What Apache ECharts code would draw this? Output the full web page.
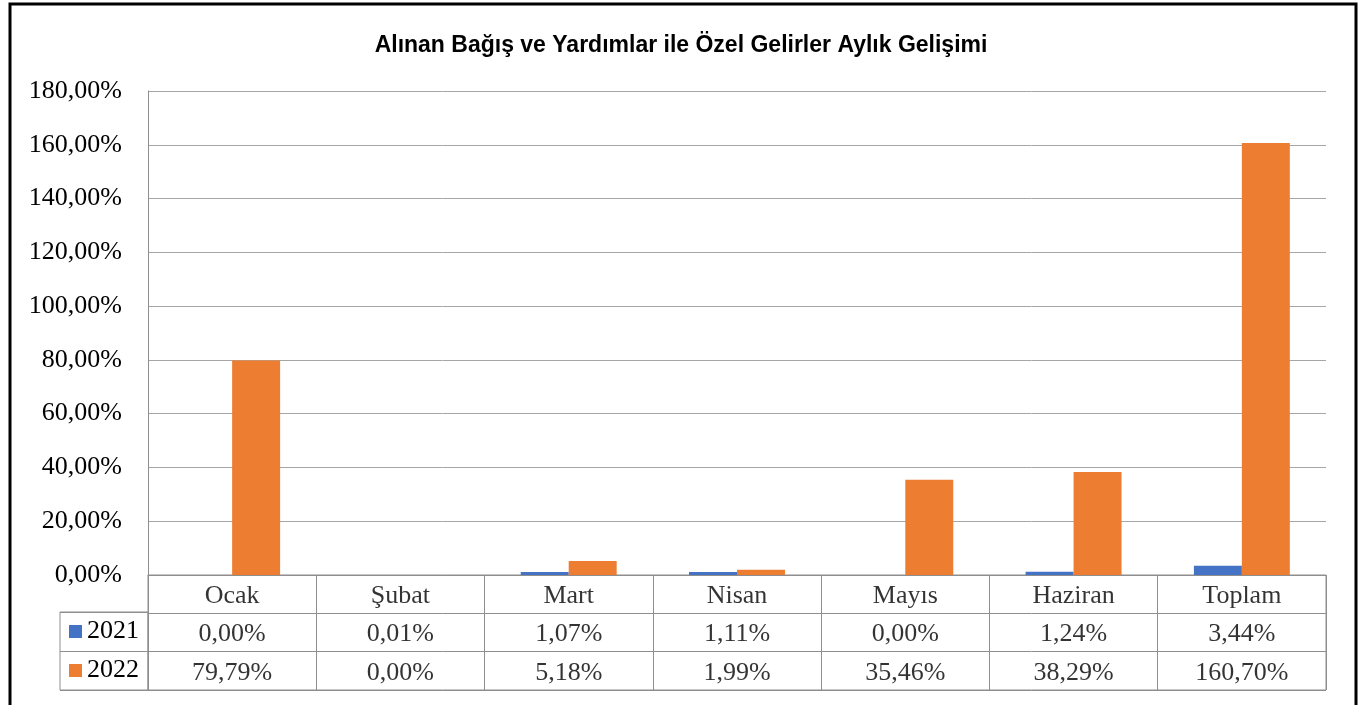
<!DOCTYPE html>
<html>
<head>
<meta charset="utf-8">
<script src="https://cdn.jsdelivr.net/npm/echarts@6/dist/echarts.min.js"></script>
<style>
  html, body { margin: 0; padding: 0; background: #fff; }
  #chart { width: 1362px; height: 705px; }
</style>
</head>
<body>
<div id="chart"></div>
<script>
const months = ['Ocak', 'Şubat', 'Mart', 'Nisan', 'Mayıs', 'Haziran', 'Toplam'];
const years = ['2021', '2022'];
const values2021 = [0.00, 0.01, 1.07, 1.11, 0.00, 1.24, 3.44];
const values2022 = [79.79, 0.00, 5.18, 1.99, 35.46, 38.29, 160.70];
const colors = ['#4472C4', '#ED7D31'];

const serif = 'Liberation Serif, Times New Roman, serif';
const lineGray = '#8e8e8e';
const fmt = v => v.toFixed(2).replace('.', ',') + '%';

// cells of the data table: [column, row, text]
const tableCells = [];
months.forEach((m, i) => {
  tableCells.push([i, 0, m]);
  tableCells.push([i, 1, fmt(values2021[i])]);
  tableCells.push([i, 2, fmt(values2022[i])]);
});

const chart = echarts.init(document.getElementById('chart'));

const option = {
  animation: false,
  title: {
    text: 'Alınan Bağış ve Yardımlar ile Özel Gelirler Aylık Gelişimi',
    left: 'center',
    top: 29,
    textStyle: {
      fontFamily: 'Liberation Sans, Arial, sans-serif',
      fontWeight: 'bold',
      fontSize: 23,
      color: '#000'
    }
  },
  graphic: [
    {
      type: 'rect',
      shape: { x: 10, y: 4, width: 1346, height: 712 },
      style: { fill: 'none', stroke: '#000', lineWidth: 3 },
      silent: true
    }
  ],
  grid: [
    { left: 148, right: 36, top: 91, bottom: 130 },
    { left: 148, right: 36, top: 575, height: 115, show: true, borderColor: lineGray, borderWidth: 1 },
    { left: 60, width: 88, top: 612, height: 78, show: true, borderColor: lineGray, borderWidth: 1 }
  ],
  xAxis: [
    {
      gridIndex: 0,
      type: 'category',
      data: months,
      axisLine: { lineStyle: { color: lineGray } },
      axisTick: { show: false },
      axisLabel: { show: false }
    },
    {
      gridIndex: 1,
      type: 'category',
      data: months,
      axisLine: { show: false },
      axisTick: { show: false },
      axisLabel: { show: false },
      splitLine: { show: true, interval: 0, lineStyle: { color: lineGray } }
    },
    {
      gridIndex: 2,
      type: 'category',
      data: [''],
      show: false
    }
  ],
  yAxis: [
    {
      gridIndex: 0,
      type: 'value',
      min: 0,
      max: 180,
      interval: 20,
      axisLine: { show: true, lineStyle: { color: lineGray } },
      axisTick: { show: false },
      axisLabel: {
        formatter: v => fmt(v),
        fontFamily: serif,
        fontSize: 26,
        color: '#000',
        margin: 26
      },
      splitLine: { lineStyle: { color: '#a6a6a6' } }
    },
    {
      gridIndex: 1,
      type: 'category',
      inverse: true,
      data: ['', years[0], years[1]],
      axisLine: { show: false },
      axisTick: { show: false },
      axisLabel: { show: false },
      splitLine: { show: true, interval: 0, lineStyle: { color: lineGray } }
    },
    {
      gridIndex: 2,
      type: 'category',
      inverse: true,
      data: years,
      axisLine: { show: false },
      axisTick: { show: false },
      splitLine: { show: true, interval: 0, lineStyle: { color: lineGray } },
      axisLabel: {
        inside: true,
        margin: 9,
        formatter: (v, i) => '{s' + i + '|}{t|' + v + '}',
        rich: {
          s0: { width: 13, height: 13, backgroundColor: colors[0] },
          s1: { width: 13, height: 13, backgroundColor: colors[1] },
          t: { fontFamily: serif, fontSize: 26, color: '#000', padding: [0, 0, 0, 5] }
        }
      }
    }
  ],
  series: [
    {
      name: years[0],
      type: 'bar',
      xAxisIndex: 0,
      yAxisIndex: 0,
      data: values2021,
      barGap: '0%',
      barCategoryGap: '43%',
      itemStyle: { color: colors[0] }
    },
    {
      name: years[1],
      type: 'bar',
      xAxisIndex: 0,
      yAxisIndex: 0,
      data: values2022,
      barGap: '0%',
      barCategoryGap: '43%',
      itemStyle: { color: colors[1] }
    },
    {
      type: 'scatter',
      xAxisIndex: 1,
      yAxisIndex: 1,
      silent: true,
      symbolSize: 1,
      itemStyle: { color: 'rgba(0,0,0,0)' },
      data: tableCells,
      label: {
        show: true,
        position: 'inside',
        offset: [0, 2],
        formatter: p => p.value[2],
        fontFamily: serif,
        fontSize: 26,
        color: '#000'
      }
    }
  ]
};

chart.setOption(option);
window.addEventListener('resize', () => chart.resize());
</script>
</body>
</html>
